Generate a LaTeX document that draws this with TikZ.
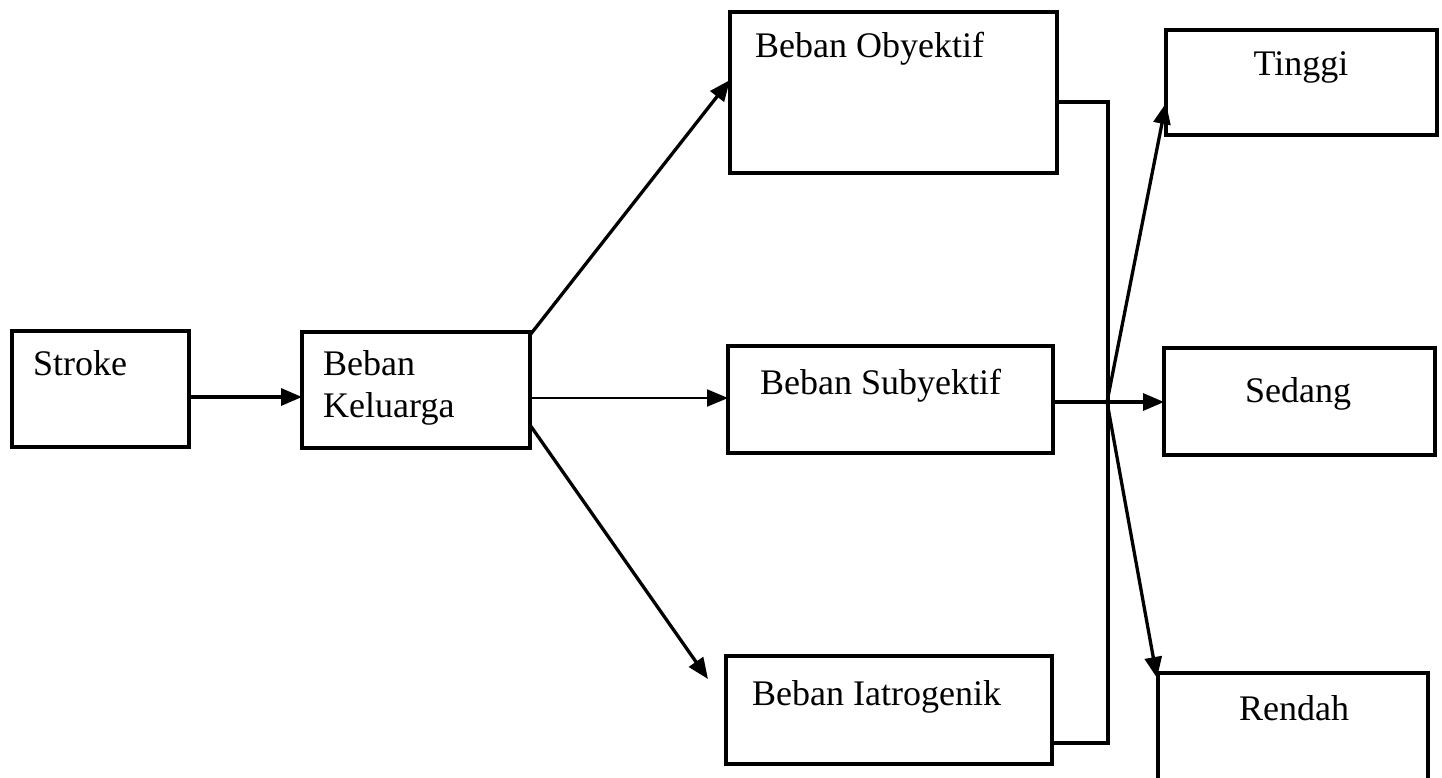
\documentclass[tikz,border=0pt]{standalone}
\usepackage{fontspec}
\setmainfont{Liberation Serif}
\usetikzlibrary{arrows.meta}
\begin{document}
\begin{tikzpicture}[x=1pt,y=-1pt,
  boxnode/.style={inner sep=0pt,outer sep=0pt,anchor=north west},
  boxline/.style={line width=3.3pt},
  lbl/.style={inner sep=0pt,font=\fontsize{36}{42}\selectfont},
  conn/.style={line width=3.3pt},
  arr/.style={line width=3.3pt,-{Triangle[length=21pt,width=17pt]}},
  thinarr/.style={line width=2pt,-{Triangle[length=21pt,width=17pt]}}]
\useasboundingbox (0,0) rectangle (1442,777);
\clip (0,0) rectangle (1442,777);
% boxes
\node[boxnode,minimum width=177pt,minimum height=116pt] (stroke) at (12,331) {};
\node[boxnode,minimum width=228pt,minimum height=116pt] (kel) at (302,332) {};
\node[boxnode,minimum width=327pt,minimum height=161pt] (oby) at (730,12) {};
\node[boxnode,minimum width=325pt,minimum height=107pt] (sub) at (728,346) {};
\node[boxnode,minimum width=326pt,minimum height=108pt] (iat) at (726,656) {};
\node[boxnode,minimum width=271pt,minimum height=105pt] (ting) at (1166,30) {};
\node[boxnode,minimum width=271pt,minimum height=107pt] (sed) at (1164,348) {};
\node[boxnode,minimum width=270pt,minimum height=130pt] (ren) at (1158,673) {};
\foreach \b in {stroke,kel,oby,sub,iat,ting,sed,ren}
  \draw[boxline] (\b.north west) rectangle (\b.south east);
% labels
\node[lbl,anchor=base west] (tstroke) at (33,375) {Stroke};
\node[lbl,anchor=base west] (tkel1) at (323,375) {Beban};
\node[lbl,anchor=base west] (tkel2) at (323,417) {Keluarga};
\node[lbl,anchor=base west] (toby) at (755,57) {Beban Obyektif};
\node[lbl,anchor=base west] (tsub) at (760,394) {Beban Subyektif};
\node[lbl,anchor=base west] (tiat) at (752,705) {Beban Iatrogenik};
\node[lbl,anchor=base] (tting) at (1301,75) {Tinggi};
\node[lbl,anchor=base] (tsed) at (1298,402) {Sedang};
\node[lbl,anchor=base] (tren) at (1294,720) {Rendah};
% helper coordinates
\coordinate (jtop) at (1108,102);
\coordinate (jbot) at (1108,743);
\coordinate (jmid) at (1107,402);
\coordinate (iatend) at (708,679);
% connectors
\draw[arr] (stroke.east |- 0,397) -- (kel.west |- 0,397);
\draw[arr] (kel.north east) ++(0,3) -- (oby.west |- 0,80);
\draw[thinarr] (kel.east |- 0,398) -- (sub.west |- 0,398);
\draw[arr] (kel.east |- 0,425) -- (iatend);
\draw[conn] (oby.east |- jtop) -- (jtop) -- (jbot) -- (iat.east |- jbot);
\draw[arr] (sub.east |- jmid) -- (sed.west |- jmid);
\draw[arr] (jmid) -- (ting.west |- 0,103);
\draw[arr] (jmid) -- (1157,678);
\end{tikzpicture}
\end{document}
